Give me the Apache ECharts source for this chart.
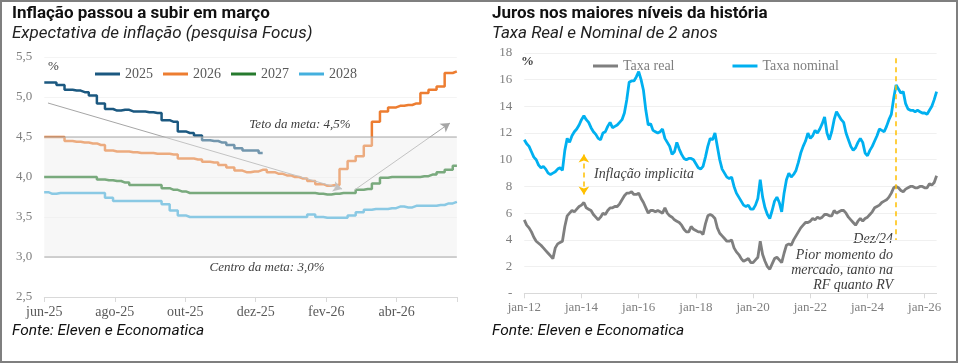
<!DOCTYPE html>
<html>
<head>
<meta charset="utf-8">
<script src="https://cdn.jsdelivr.net/npm/echarts@6.0.0/dist/echarts.min.js"></script>
<style>
  html, body { margin: 0; padding: 0; background: #fff; }
  #chart { width: 962px; height: 364px; }
</style>
</head>
<body>
<div id="chart"></div>
<script>
// ---------- Esquerda: Focus (semanal, a partir de 01/06/2025)
var anosFocus = ['2025', '2026', '2027', '2028'];
var focus2025 = [5.18,5.18,5.15,5.09,5.08,5.06,5.02,4.92,4.85,4.83,4.84,4.82,4.82,4.81,4.80,4.71,4.69,4.57,4.55,4.52,4.46,4.45,4.43,4.40,4.36,4.33,4.33,4.30];
var focus2026 = [4.50,4.50,4.50,4.45,4.44,4.43,4.42,4.40,4.33,4.32,
                 4.32,4.31,4.30,4.30,4.29,4.29,4.28,4.23,4.23,4.22,
                 4.19,4.18,4.15,4.12,4.08,4.06,4.07,4.09,4.06,4.04,
                 4.02,4.00,3.98,3.95,3.91,3.89,3.90,4.10,4.20,4.26,
                 4.39,4.69,4.82,4.87,4.89,4.90,4.92,5.05,5.09,5.13,
                 5.30,5.32];
var focus2027 = [4.00,4.00,4.00,4.00,4.00,4.00,4.00,3.97,3.96,3.95,
                 3.93,3.90,3.90,3.90,3.90,3.86,3.84,3.82,3.80,3.80,
                 3.80,3.80,3.80,3.80,3.80,3.80,3.80,3.80,3.80,3.80,
                 3.80,3.80,3.80,3.80,3.79,3.78,3.79,3.80,3.80,3.84,
                 3.85,3.92,3.99,4.00,4.00,4.00,4.00,4.01,4.03,4.06,
                 4.09,4.14];
var focus2028 = [3.81,3.79,3.80,3.80,3.80,3.80,3.80,3.80,3.74,3.70,
                 3.70,3.70,3.70,3.70,3.70,3.66,3.58,3.52,3.50,3.50,
                 3.50,3.50,3.50,3.50,3.50,3.50,3.50,3.50,3.50,3.50,
                 3.50,3.50,3.50,3.53,3.50,3.49,3.49,3.49,3.52,3.56,
                 3.59,3.60,3.60,3.61,3.63,3.62,3.64,3.64,3.64,3.65,
                 3.67,3.69];
var rotulosEsq = ['jun-25', 'ago-25', 'out-25', 'dez-25', 'fev-26', 'abr-26'];
var tetoMeta = 4.5, centroMeta = 3.0;

// ---------- Direita: taxas de 2 anos (mensal, jan-12 a jun-26)
var mesesPt = ['jan','fev','mar','abr','mai','jun','jul','ago','set','out','nov','dez'];
var taxaNominal = [
  11.5,11.2,11.0,10.6,10.2,10.0,9.6,9.4,9.5,9.3,9.0,8.9,
  9.0,9.1,9.3,9.4,9.2,10.7,11.6,11.3,11.8,12.1,12.3,12.6,
  13.0,13.3,13.0,12.8,12.4,12.1,11.9,11.6,11.5,12.0,12.1,12.5,
  12.8,12.4,12.5,12.6,12.8,13.0,13.5,14.5,15.8,15.9,15.9,16.2,
  16.6,16.0,15.2,13.7,12.6,12.7,12.2,12.1,12.0,12.1,12.3,11.6,
  11.3,11.0,10.4,10.6,11.3,10.8,10.4,10.1,10.0,10.1,10.1,10.0,
  9.7,9.4,9.3,9.5,10.2,11.0,11.6,11.5,12.0,11.0,10.0,9.3,
  9.0,8.7,8.6,8.7,8.0,7.5,7.2,6.9,6.6,6.5,6.6,6.3,
  6.3,6.6,7.1,8.5,7.2,6.4,5.9,5.6,6.2,6.9,7.2,6.8,
  6.1,7.5,8.5,9.0,8.7,8.9,9.2,9.8,10.5,11.0,11.4,12.0,
  11.6,11.8,12.2,12.0,12.3,12.7,13.2,12.0,11.5,12.1,13.0,13.6,
  13.3,13.0,12.8,12.0,11.5,11.0,10.7,10.9,11.3,11.6,11.3,10.5,
  10.3,10.7,11.0,11.4,11.8,12.3,12.2,12.1,12.5,13.0,13.4,14.6,
  15.6,15.3,15.0,15.1,14.2,13.8,13.7,13.7,13.6,13.7,13.6,13.5,
  13.5,13.4,13.7,14.0,14.5,15.1
];
var taxaReal = [
  5.5,5.1,4.9,4.6,4.2,3.9,3.75,3.6,3.4,3.2,3.0,2.8,
  2.6,3.4,3.7,3.8,3.9,5.0,5.8,6.0,6.2,6.1,6.3,6.5,
  6.6,6.8,6.4,6.3,6.2,5.9,5.7,5.5,5.7,6.0,5.9,6.2,
  6.4,6.4,6.5,6.5,6.7,7.0,7.3,7.5,7.5,7.6,7.4,7.4,
  7.5,7.1,6.8,6.4,6.0,6.2,6.2,6.1,6.2,6.1,6.0,6.4,
  6.0,5.8,5.7,5.5,5.4,5.3,5.1,4.8,4.6,4.6,5.0,4.8,
  4.7,4.6,4.6,4.4,5.2,5.8,5.9,5.8,5.6,4.9,4.5,4.3,
  4.1,3.9,3.9,4.0,3.4,3.1,2.9,2.6,2.4,2.5,2.6,2.3,
  2.3,2.5,2.7,3.9,2.9,2.4,2.0,1.8,2.2,2.6,2.7,2.5,
  2.3,3.0,3.6,3.7,3.6,4.0,4.3,4.6,4.9,5.1,5.3,5.3,
  5.4,5.6,5.5,5.7,5.6,5.7,5.9,5.9,5.8,5.8,6.2,6.0,
  6.1,6.2,6.2,6.0,5.7,5.5,5.3,5.1,5.4,5.6,5.4,5.6,
  5.7,5.9,6.1,6.4,6.5,6.6,6.8,6.9,7.0,7.2,7.5,7.9,
  8.0,7.9,7.7,7.6,7.8,7.9,8.0,8.0,7.9,7.9,8.0,8.0,
  7.9,7.9,8.2,8.1,8.3,8.8
];

// categorias mensais jan-12 ...
var categorias = taxaNominal.map(function (v, i) {
  var ano = 12 + Math.floor(i / 12);
  return mesesPt[i % 12] + '-' + ano;
});

function semanal(valores) {
  return valores.map(function (v, i) { return [i * 7, v]; });
}

var SERIF = "'Liberation Serif', 'DejaVu Serif', serif";
var SANS = "Roboto, 'Noto Sans', sans-serif";
var diasFim = 357;

function txt(x, y, s, font, fill, align) {
  return {
    type: 'text', x: x, y: y, silent: true,
    style: { text: s, font: font, fill: fill, align: align || 'left', verticalAlign: 'middle' }
  };
}

var chart = echarts.init(document.getElementById('chart'), null, { renderer: 'canvas' });

var option = {
  animation: false,
  backgroundColor: '#fff',
  grid: [
    { left: 44.3, top: 57, width: 412.5, height: 240 },
    { left: 524.3, top: 52.9, width: 412.3, height: 240.4 }
  ],
  legend: [
    {
      data: anosFocus, left: 90, top: 62, icon: 'rect', itemWidth: 25, itemHeight: 3, itemGap: 10,
      textStyle: { fontFamily: SERIF, fontSize: 14, color: '#595959' }
    },
    {
      data: ['Taxa real', 'Taxa nominal'], left: 588, top: 54, icon: 'rect', itemWidth: 25, itemHeight: 3, itemGap: 58,
      textStyle: { fontFamily: SERIF, fontSize: 14, color: '#7f7f7f' }
    }
  ],
  xAxis: [
    {
      gridIndex: 0, type: 'value', min: 0, max: diasFim, interval: 61,
      axisLine: { lineStyle: { color: '#d9d9d9' } },
      axisTick: { lineStyle: { color: '#d9d9d9' } },
      splitLine: { show: false },
      axisLabel: {
        fontFamily: SERIF, fontSize: 14, color: '#595959', margin: 8,
        formatter: function (v) {
          if (v % 61 !== 0) return '';
          return rotulosEsq[v / 61] || '';
        }
      }
    },
    {
      gridIndex: 1, type: 'category', data: categorias, boundaryGap: false,
      axisLine: { lineStyle: { color: '#d9d9d9' } },
      axisTick: { interval: 23, lineStyle: { color: '#d9d9d9' } },
      axisLabel: { interval: 23, fontFamily: SERIF, fontSize: 13, color: '#7f7f7f', margin: 8 }
    }
  ],
  yAxis: [
    {
      gridIndex: 0, type: 'value', min: 2.5, max: 5.5, interval: 0.5,
      axisLine: { show: false }, axisTick: { show: false },
      splitLine: { lineStyle: { color: '#f4f4f4' } },
      axisLabel: {
        fontFamily: SERIF, fontSize: 13, color: '#7f7f7f', margin: 12,
        formatter: function (v) { return v.toFixed(1).replace('.', ','); }
      }
    },
    {
      gridIndex: 1, type: 'value', min: 0, max: 18, interval: 2,
      axisLine: { show: false }, axisTick: { show: false },
      splitLine: { lineStyle: { color: '#f0f0f0' } },
      axisLabel: {
        fontFamily: SERIF, fontSize: 13, color: '#7f7f7f', margin: 12,
        formatter: function (v) { return v === 0 ? '-' : String(v); }
      }
    }
  ],
  series: [
    // ---- esquerda
    { name: '2025', type: 'line', xAxisIndex: 0, yAxisIndex: 0, data: semanal(focus2025), step: 'middle',
      symbol: 'none', lineStyle: { color: '#1b5880', width: 2.5 }, itemStyle: { color: '#1b5880' }, z: 2 },
    { name: '2026', type: 'line', xAxisIndex: 0, yAxisIndex: 0, data: semanal(focus2026), step: 'middle',
      symbol: 'none', lineStyle: { color: '#ed7d31', width: 2.5 }, itemStyle: { color: '#ed7d31' }, z: 2 },
    { name: '2027', type: 'line', xAxisIndex: 0, yAxisIndex: 0, data: semanal(focus2027), step: 'middle',
      symbol: 'none', lineStyle: { color: '#267a2e', width: 2.5 }, itemStyle: { color: '#267a2e' }, z: 2 },
    { name: '2028', type: 'line', xAxisIndex: 0, yAxisIndex: 0, data: semanal(focus2028), step: 'middle',
      symbol: 'none', lineStyle: { color: '#44b0de', width: 2.5 }, itemStyle: { color: '#44b0de' }, z: 2 },
    // faixa da meta (3,0 a 4,5) por cima das linhas
    { name: 'faixa', type: 'custom', xAxisIndex: 0, yAxisIndex: 0, z: 10, silent: true,
      data: [[0, tetoMeta, diasFim, centroMeta]],
      encode: { x: [0, 2], y: [1, 3] },
      renderItem: function (params, api) {
        var p1 = api.coord([api.value(0), api.value(1)]);
        var p2 = api.coord([api.value(2), api.value(3)]);
        return { type: 'rect', shape: { x: p1[0], y: p1[1], width: p2[0] - p1[0], height: p2[1] - p1[1] },
                 style: { fill: 'rgba(235,235,235,0.42)' } };
      }
    },
    { name: 'teto', type: 'line', xAxisIndex: 0, yAxisIndex: 0, z: 11, silent: true,
      data: [[0, tetoMeta], [diasFim, tetoMeta]], symbol: 'none',
      lineStyle: { color: '#a6a6a6', width: 1 },
      markLine: {
        silent: true, symbol: ['none', 'arrow'], symbolSize: [8, 9],
        label: { show: false },
        lineStyle: { color: '#a6a6a6', width: 1, type: 'solid' },
        data: [
          [{ coord: [3.2, 4.925] }, { coord: [257.7, 3.85] }],
          [{ coord: [268.7, 3.84] }, { coord: [351.1, 4.675] }]
        ]
      }
    },
    { name: 'centro', type: 'line', xAxisIndex: 0, yAxisIndex: 0, z: 11, silent: true,
      data: [[0, centroMeta], [diasFim, centroMeta]], symbol: 'none',
      lineStyle: { color: '#a6a6a6', width: 1 } },
    // ---- direita
    { name: 'Taxa real', type: 'line', xAxisIndex: 1, yAxisIndex: 1, data: taxaReal,
      symbol: 'none', lineStyle: { color: '#7f7f7f', width: 2.8 }, itemStyle: { color: '#7f7f7f' },
      markLine: {
        silent: true, label: { show: false },
        data: [
          [{ coord: [categorias[156], 17.6], symbol: 'none' },
           { coord: [categorias[156], 4.0], symbol: 'none' }],
          [{ coord: [categorias[25], 10.4], symbol: 'arrow' },
           { coord: [categorias[25], 7.4], symbol: 'arrow' }]
        ],
        symbolSize: 8,
        lineStyle: { color: '#ffc000', width: 1.5, type: [5, 4] }
      }
    },
    { name: 'Taxa nominal', type: 'line', xAxisIndex: 1, yAxisIndex: 1, data: taxaNominal,
      symbol: 'none', lineStyle: { color: '#00b0f0', width: 2.8 }, itemStyle: { color: '#00b0f0' } }
  ],
  graphic: [
    { type: 'rect', silent: true, shape: { x: 1, y: 1, width: 956, height: 361 },
      style: { fill: 'none', stroke: '#7f7f7f', lineWidth: 2 } },
    txt(12, 14, 'Inflação passou a subir em março', 'bold 17px ' + SANS, '#111111'),
    txt(12, 34, 'Expectativa de inflação (pesquisa Focus)', 'italic 17px ' + SANS, '#222222'),
    txt(12, 331, 'Fonte: Eleven e Economatica', 'italic 15.5px ' + SANS, '#111111'),
    txt(492, 14, 'Juros nos maiores níveis da história', 'bold 17px ' + SANS, '#111111'),
    txt(492, 34, 'Taxa Real e Nominal de 2 anos', 'italic 17px ' + SANS, '#222222'),
    txt(492, 331, 'Fonte: Eleven e Economatica', 'italic 15.5px ' + SANS, '#111111'),
    txt(48, 67, '%', '13px ' + SERIF, '#404040'),
    txt(521, 62, '%', 'bold 13px ' + SERIF, '#404040'),
    txt(300, 125, 'Teto da meta: 4,5%', 'italic 13px ' + SERIF, '#404040', 'center'),
    txt(267, 268, 'Centro da meta: 3,0%', 'italic 13px ' + SERIF, '#404040', 'center'),
    txt(594, 174, 'Inflação implicita', 'italic 14px ' + SERIF, '#404040'),
    txt(893, 239, 'Dez/24', 'italic 14px ' + SERIF, '#404040', 'right'),
    txt(893, 255, 'Pior momento do', 'italic 14px ' + SERIF, '#404040', 'right'),
    txt(893, 270, 'mercado, tanto na', 'italic 14px ' + SERIF, '#404040', 'right'),
    txt(893, 285, 'RF quanto RV', 'italic 14px ' + SERIF, '#404040', 'right')
  ]
};

chart.setOption(option);
</script>
</body>
</html>
